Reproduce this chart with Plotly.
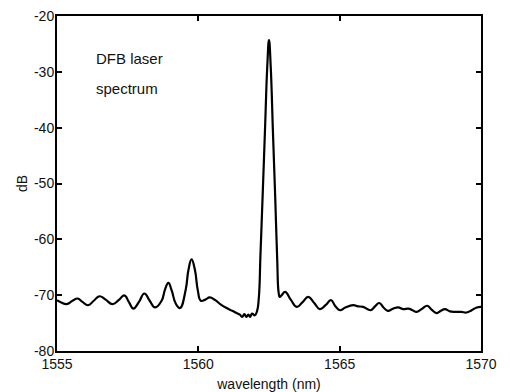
import plotly.graph_objects as go

wavelength = [1555.0, 1555.15, 1555.34, 1555.55, 1555.73, 1555.9, 1556.1, 1556.3, 1556.5, 1556.72,
              1556.96, 1557.18, 1557.38, 1557.55, 1557.7, 1557.9, 1558.09, 1558.28, 1558.47, 1558.7,
              1558.82, 1558.94, 1559.06, 1559.2, 1559.35, 1559.55, 1559.65, 1559.76, 1559.88, 1559.98,
              1560.09, 1560.25, 1560.4, 1560.6,
              1560.8, 1561.0, 1561.2, 1561.35, 1561.47, 1561.55, 1561.63, 1561.7, 1561.77, 1561.83,
              1561.9, 1562.0, 1562.08, 1562.14, 1562.2, 1562.28, 1562.36, 1562.44, 1562.5, 1562.56,
              1562.64, 1562.72, 1562.79, 1562.84, 1562.88, 1562.95, 1563.07, 1563.27, 1563.48, 1563.68,
              1563.89, 1564.1, 1564.3, 1564.5, 1564.69, 1564.85, 1565.01, 1565.2, 1565.48, 1565.65,
              1565.83, 1566.1, 1566.25, 1566.4, 1566.55, 1566.7, 1566.9, 1567.07, 1567.25, 1567.43,
              1567.58, 1567.72, 1567.9, 1568.1, 1568.25, 1568.43, 1568.58, 1568.72, 1568.9, 1569.08,
              1569.3, 1569.49, 1569.67, 1569.85, 1570.0]

power_db = [-70.9, -71.3, -71.6, -71.0, -70.6, -71.2, -71.8, -71.0, -70.2, -70.8,
            -71.6, -70.9, -70.05, -71.3, -72.4, -71.2, -69.7, -71.0, -72.2, -71.0,
            -69.0, -67.8, -69.2, -71.5, -72.3, -69.1, -65.5, -63.6, -65.5, -69.1,
            -71.0, -70.8, -70.4, -70.9,
            -71.7, -72.3, -72.8, -73.2, -73.5, -73.9, -73.4, -73.9, -73.5, -73.9,
            -73.3, -73.6, -72.8, -70.5, -62.5, -51.5, -40.2, -28.9, -24.3, -29.0,
            -40.9, -52.5, -63.5, -69.5, -70.3, -70.0, -69.4, -70.8, -72.1, -71.3,
            -70.3, -71.4, -72.5, -71.8, -70.9, -72.0, -72.7, -72.2, -71.8, -72.0,
            -72.1, -72.7, -72.0, -71.4, -72.2, -72.8, -72.4, -72.2, -72.5, -72.4,
            -72.7, -73.0, -72.5, -71.9, -72.6, -73.2, -72.8, -72.5, -72.9, -73.0,
            -73.0, -73.1, -72.7, -72.2, -72.1]

x_ticks = [1555, 1560, 1565, 1570]
y_ticks = [-80, -70, -60, -50, -40, -30, -20]
annotation_lines = ["DFB laser", "spectrum"]

FONT = "Liberation Sans, Arial, sans-serif"

fig = go.Figure()
fig.add_trace(go.Scatter(
    x=wavelength, y=power_db, mode="lines",
    line=dict(color="black", width=2.2, shape="spline", smoothing=1.3),
    hoverinfo="skip", showlegend=False,
))

axis_common = dict(
    showline=True, linecolor="black", linewidth=2, mirror="ticks",
    ticks="inside", ticklen=5, tickwidth=1.5, tickcolor="black",
    showgrid=False, zeroline=False, automargin=False,
    tickfont=dict(family=FONT, size=14, color="#111"),
)

fig.update_layout(
    width=510, height=392,
    margin=dict(l=57, r=29, t=16, b=41),
    paper_bgcolor="white", plot_bgcolor="white",
    xaxis=dict(range=[1555, 1570], tickvals=x_ticks, ticktext=[str(v) for v in x_ticks],
               ticklabelstandoff=-1,
               title=dict(text="wavelength (nm)", font=dict(family=FONT, size=14, color="#111"), standoff=8),
               **axis_common),
    yaxis=dict(range=[-80, -20], tickvals=y_ticks, ticktext=[str(v) for v in y_ticks],
               ticklabelstandoff=-2,
               title=dict(text="dB", font=dict(family=FONT, size=14, color="#111"), standoff=3),
               **axis_common),
)

for i, txt in enumerate(annotation_lines):
    fig.add_annotation(
        x=1556.3, y=-27.7 - i * 5.2, xref="x", yref="y",
        text=txt, showarrow=False, xanchor="left", yanchor="middle",
        font=dict(family=FONT, size=15, color="#111"),
    )

fig.write_html("out.html", config={"displayModeBar": False},
               post_script="document.body.style.margin='0';document.body.style.padding='0';")
